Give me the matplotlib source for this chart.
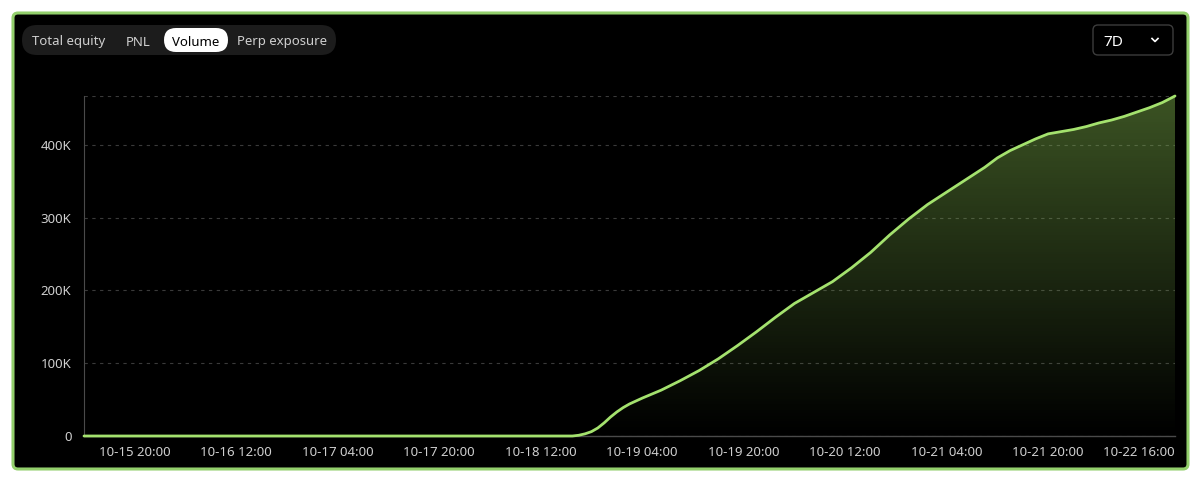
import numpy as np
import pandas as pd
import matplotlib
matplotlib.use('Agg')
import matplotlib.pyplot as plt
import matplotlib.dates as mdates
from matplotlib.patches import FancyBboxPatch, PathPatch
from matplotlib.lines import Line2D
from matplotlib.transforms import IdentityTransform

plt.rcParams['font.family'] = ['Noto Sans', 'DejaVu Sans']

# cumulative volume (time, USD)
times = ['10-15 12:00', '10-18 17:00', '10-18 18:00', '10-18 19:00', '10-18 20:00',
         '10-18 21:00', '10-18 22:00', '10-18 23:00', '10-19 00:00', '10-19 01:00',
         '10-19 02:00', '10-19 04:00', '10-19 07:00', '10-19 10:00', '10-19 13:00',
         '10-19 16:00', '10-19 19:00', '10-19 22:00', '10-20 01:00', '10-20 04:00',
         '10-20 07:00', '10-20 10:00', '10-20 13:00', '10-20 16:00', '10-20 19:00',
         '10-20 22:00', '10-21 01:00', '10-21 04:00', '10-21 07:00', '10-21 10:00',
         '10-21 12:00', '10-21 14:00', '10-21 16:00', '10-21 18:00', '10-21 20:00',
         '10-21 22:00', '10-22 00:00', '10-22 02:00', '10-22 04:00', '10-22 06:00',
         '10-22 08:00', '10-22 10:00', '10-22 12:00', '10-22 14:00', '10-22 16:00']
volume = [0, 0, 1000, 3000, 6000,
          11000, 18000, 26000, 33000, 39000,
          44000, 52000, 63000, 76000, 90000,
          106000, 124000, 143000, 163000, 182000,
          197000, 212000, 231000, 252000, 276000,
          298000, 318000, 335000, 352000, 369000,
          382000, 392000, 400000, 408000, 415000,
          418000, 421000, 425000, 430000, 434000,
          439000, 445000, 451000, 458000, 467000]

tick_times = ['10-15 20:00', '10-16 12:00', '10-17 04:00', '10-17 20:00', '10-18 12:00',
              '10-19 04:00', '10-19 20:00', '10-20 12:00', '10-21 04:00', '10-21 20:00',
              '10-22 16:00']
y_ticks = [0, 100000, 200000, 300000, 400000]
y_labels = ['0', '100K', '200K', '300K', '400K']
tabs = ['Total equity', 'PNL', 'Volume', 'Perp exposure']
tab_x = [69, 138, 196, 282]

def to_dt(lst):
    return pd.to_datetime(['2024-' + s for s in lst], format='%Y-%m-%d %H:%M')

t = to_dt(times)
ticks = to_dt(tick_times)
ymax = max(volume)

fig = plt.figure(figsize=(11.99, 4.82), dpi=100, facecolor='white')
px = IdentityTransform()

# black panel with green border
panel = FancyBboxPatch((13, 13), 1175, 456, boxstyle='round,pad=0,rounding_size=5',
                       facecolor='black', edgecolor='#93cf6c', linewidth=2.2,
                       transform=px, zorder=-10)
fig.patches.append(panel)

# tab bar
fig.patches.append(FancyBboxPatch((22, 427), 314, 30, boxstyle='round,pad=0,rounding_size=15',
                                  facecolor='#1c1c1c', edgecolor='none', transform=px, zorder=-5))
fig.patches.append(FancyBboxPatch((164, 430), 64, 24, boxstyle='round,pad=0,rounding_size=12',
                                  facecolor='white', edgecolor='none', transform=px, zorder=-4))
for name, x in zip(tabs, tab_x):
    fig.text(x, 440, name, transform=px, ha='center', va='center', fontsize=9.5,
             color='black' if name == 'Volume' else '#cfcfcf')

# range dropdown
fig.patches.append(FancyBboxPatch((1093, 427), 80, 30, boxstyle='round,pad=0,rounding_size=5',
                                  facecolor='black', edgecolor='#3c3c3c', linewidth=1,
                                  transform=px, zorder=-5))
fig.text(1113, 440, '7D', transform=px, ha='center', va='center', fontsize=11, color='white')
fig.lines.append(Line2D([1152, 1155, 1158], [443.5, 440.5, 443.5], transform=px,
                        color='white', linewidth=1.2))

ax = fig.add_axes([84 / 1199, 46 / 482, 1091 / 1199, 340 / 482])
ax.set_facecolor('none')

# gradient fill under the curve
xnum = mdates.date2num(t)
poly = ax.fill_between(t, volume, 0, color='none', linewidth=0)
clip = PathPatch(poly.get_paths()[0], transform=ax.transData, facecolor='none', edgecolor='none')
ax.add_patch(clip)
grad = np.zeros((256, 1, 4))
grad[..., 0] = 0.50
grad[..., 1] = 0.70
grad[..., 2] = 0.30
grad[:, 0, 3] = np.linspace(0.0, 0.47, 256)
im = ax.imshow(grad, extent=[xnum[0], xnum[-1], 0, ymax], origin='lower', aspect='auto', zorder=1)
im.set_clip_path(clip)

ax.plot(t, volume, color='#a4e26e', linewidth=2.0, zorder=3, clip_on=False,
        solid_joinstyle='round', solid_capstyle='round')

ax.set_xlim(t[0], t[-1])
ax.set_ylim(0, ymax)

ax.set_yticks(y_ticks, y_labels)
ax.set_xticks(ticks, tick_times)
ax.get_xticklabels()[-1].set_ha('right')
ax.tick_params(axis='both', length=0, colors='#cfcfcf', labelsize=9.5)
ax.tick_params(axis='y', pad=9)
ax.tick_params(axis='x', pad=7)

ax.yaxis.grid(True, linestyle=(0, (3, 4)), color='#3a3a3a', linewidth=0.8)
ax.axhline(ymax, linestyle=(0, (3, 4)), color='#3a3a3a', linewidth=0.8)
ax.set_axisbelow(True)
for s in ['top', 'right']:
    ax.spines[s].set_visible(False)
ax.spines['left'].set_color('#4a4a4a')
ax.spines['left'].set_linewidth(0.8)
ax.spines['bottom'].set_color('#4a4a4a')
ax.spines['bottom'].set_linewidth(1.0)

fig.savefig('out.png', dpi=100, facecolor='white')
